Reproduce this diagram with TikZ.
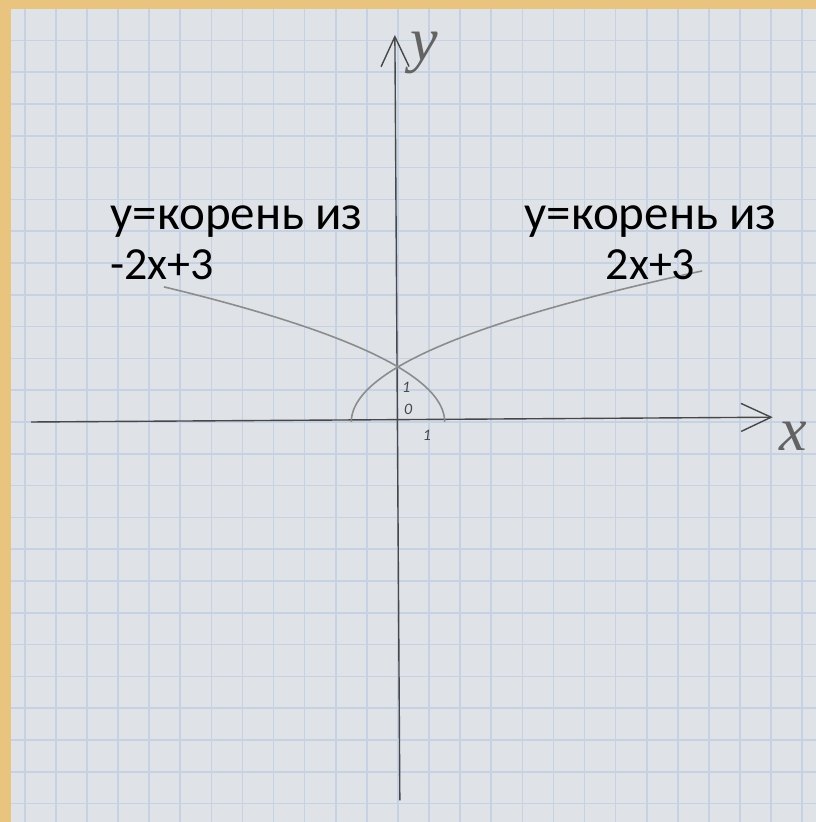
\documentclass[tikz,border=0pt]{standalone}
\usepackage{fontspec}
\setmainfont{Carlito}
\newfontfamily\handfont{Liberation Serif}
\usetikzlibrary{arrows.meta, positioning}
\definecolor{cframe}{HTML}{E8C47F}
\definecolor{cpaper}{HTML}{DFE3E7}
\definecolor{cgrid}{HTML}{C6D2E4}
\definecolor{cpencil}{HTML}{474747}
\definecolor{ccurve}{HTML}{8C8C8C}
\tikzset{
  every picture/.style={line width=1.2pt},
  gridline/.style={draw=cgrid, line width=1.6pt},
  axis/.style={draw=cpencil, line width=1.4pt, -{Straight Barb[length=30bp, width=28bp]}},
  curve/.style={draw=ccurve, line width=1.6pt},
  lbl/.style={font=\fontsize{49bp}{50bp}\selectfont, text=black, inner sep=0pt},
  arg/.style={font=\fontsize{46bp}{50bp}\selectfont, text=black, inner sep=0pt},
  hand/.style={font=\handfont\itshape\fontsize{62bp}{62bp}\selectfont, text=cpencil!85, inner sep=0pt},
  mark1/.style={font=\fontsize{16bp}{16bp}\selectfont\itshape, text=cpencil, inner sep=0pt},
}

\begin{document}
\begin{tikzpicture}[x=31.1bp, y=31.8bp]
  % frame and paper
  \fill[cframe] (-12.797,-12.579) rectangle (13.441,13.270);
  \useasboundingbox (-12.797,-12.579) rectangle (13.441,13.270);
  \fill[cpaper] (-12.44,-12.579) rectangle (13.441,12.99);
  \foreach \k in {-12,...,13}
    \draw[gridline] (\k,-12.579) -- (\k,12.99);
  \foreach \k in {-12,...,12}
    \draw[gridline] (-12.44,\k) -- (13.441,\k);

  % axes
  \coordinate (xl) at (-11.8,0);
  \coordinate (xr) at (12.05,0.15);
  \coordinate (yb) at (0.06,-11.9);
  \coordinate (yt) at (-0.1,12.17);
  \draw[axis] (xl) -- (xr);
  \draw[axis] (yb) -- (yt);
  \node[hand] (ylbl) at (0.85,11.6) {y};
  \node[hand] (xlbl) at (12.7,-0.45) {x};
  \node[mark1] (one_y) at (0.26,1.1) {1};
  \node[mark1] (zero) at (0.33,0.4) {0};
  \node[mark1] (one_x) at (0.93,-0.42) {1};

  % the two branches
  \draw[curve] plot[domain=0:4.75, samples=60, smooth, variable=\t] ({(\t*\t-3)/2}, \t);
  \draw[curve] plot[domain=0:4.25, samples=60, smooth, variable=\t] ({(3-\t*\t)/2}, \t);

  % labels
  \node[lbl, anchor=base west] (lfun) at (-9.26,6.04) {y=корень из};
  \node[arg, anchor=base west] (larg) at ([yshift=-50bp] lfun.base west) {-2x+3};
  \node[lbl, anchor=base] (rfun) at (8.12,6.04) {y=корень из};
  \node[arg, anchor=base] (rarg) at ([yshift=-50bp] rfun.base) {2x+3};
\end{tikzpicture}
\end{document}
